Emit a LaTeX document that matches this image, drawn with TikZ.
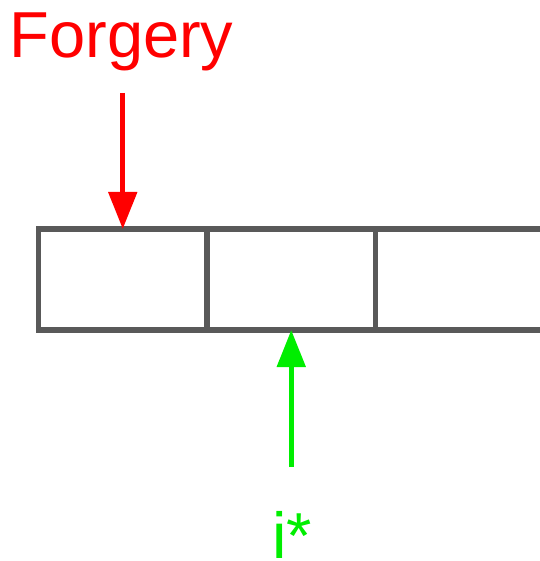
\documentclass[tikz,border=0pt]{standalone}
\usepackage{fontspec}
\setmainfont{Liberation Sans}
\usetikzlibrary{arrows.meta}
\definecolor{cellgray}{HTML}{595959}
\definecolor{forgered}{HTML}{FF0000}
\definecolor{idxgreen}{HTML}{00EE00}
\tikzset{
  cell/.style={draw=cellgray, line width=5.5pt, rectangle, outer sep=0pt,
    inner sep=0pt, minimum width=168.5pt, minimum height=101pt},
  pointer/.style={line width=5pt, -{Triangle[width=28pt,length=37pt]}},
  label/.style={font=\fontsize{65}{65}\selectfont, anchor=base, inner sep=0pt}
}
\begin{document}
\begin{tikzpicture}[x=1pt, y=-1pt]
  \useasboundingbox (0,0) rectangle (539,561);
  % array of cells (the third one runs past the right edge)
  \node[cell] (cell1) at (122.75,279.5) {};
  \node[cell] (cell2) at (291.25,279.5) {};
  \node[cell] (cell3) at (459.75,279.5) {};
  % forgery pointer
  \node[label, text=forgered] (forgery) at (121.5,58) {Forgery};
  \coordinate (ftail) at (122.75,93);
  \draw[pointer, forgered] (ftail) -- (cell1.north);
  % index pointer
  \node[label, text=idxgreen, text depth=0pt] (istar) at (292,558) {i*};
  \coordinate (itail) at (291.25,467);
  \draw[pointer, idxgreen] (itail) -- (cell2.south);
\end{tikzpicture}
\end{document}
